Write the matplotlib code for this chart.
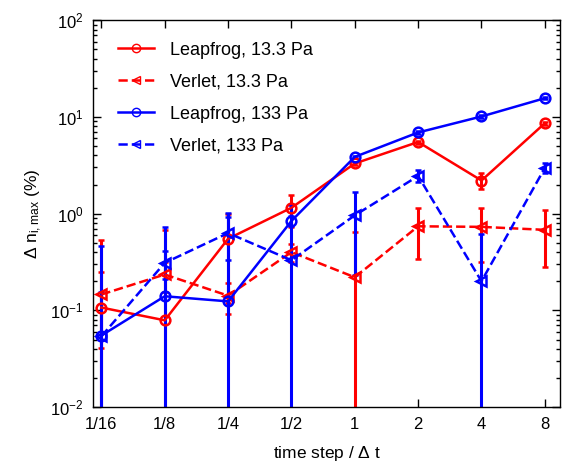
import matplotlib
matplotlib.use("Agg")
import matplotlib.pyplot as plt
from matplotlib.lines import Line2D

plt.rcParams['font.family'] = ['Liberation Sans', 'DejaVu Sans']
plt.rcParams['mathtext.fontset'] = 'custom'
plt.rcParams['mathtext.rm'] = 'Liberation Sans'
plt.rcParams['mathtext.it'] = 'Liberation Sans'

# time step relative to the reference step
steps = [1/16, 1/8, 1/4, 1/2, 1, 2, 4, 8]
step_labels = ['1/16', '1/8', '1/4', '1/2', '1', '2', '4', '8']

# max density error in percent, with error bars
leap_lo = [0.107, 0.079, 0.55, 1.15, 3.3, 5.5, 2.2, 8.6]
leap_lo_err = [0.43, 0.6, 0.43, 0.42, 0.1, 0.2, 0.4, 0.3]
verlet_lo = [0.146, 0.235, 0.142, 0.40, 0.22, 0.74, 0.73, 0.68]
verlet_lo_err = [0.105, 0.08, 0.05, 0.08, 0.42, 0.40, 0.41, 0.40]
leap_hi = [0.055, 0.14, 0.124, 0.84, 3.86, 6.9, 10.1, 15.6]
leap_hi_err = [0.41, 0.58, 0.9, 0.1, 0.1, 0.2, 0.3, 0.4]
verlet_hi = [0.054, 0.31, 0.63, 0.33, 0.96, 2.45, 0.2, 2.97]
verlet_hi_err = [0.1, 0.1, 0.3, 0.9, 0.73, 0.35, 0.41, 0.35]

fig = plt.figure(figsize=(5.68, 4.68), dpi=100)
ax = fig.add_axes([0.164, 0.130, 0.822, 0.827])

series = [
    (leap_lo, leap_lo_err, 'r', '-', 'o', 'Leapfrog, 13.3 Pa'),
    (verlet_lo, verlet_lo_err, 'r', '--', '<', 'Verlet, 13.3 Pa'),
    (leap_hi, leap_hi_err, 'b', '-', 'o', 'Leapfrog, 133 Pa'),
    (verlet_hi, verlet_hi_err, 'b', '--', '<', 'Verlet, 133 Pa'),
]

handles = []
for vals, err, col, ls, mk, lab in series:
    ax.errorbar(steps, vals, yerr=err, color=col, ls=ls, marker=mk,
                mfc='none', mec=col, ms=7, mew=1.8, lw=1.8,
                elinewidth=2.2, capsize=2, capthick=2)
    # thin-marker proxy for the legend, like the original
    handles.append(Line2D([], [], color=col, ls=ls, marker=mk, mfc='none',
                          mec=col, ms=6, mew=1, lw=1.8, label=lab))

ax.set_xscale('log', base=2)
ax.set_yscale('log')
ax.set_xlim(2**-4.13, 2**3.24)
ax.set_ylim(1e-2, 1e2)
ax.set_xticks(steps)
ax.set_xticklabels(step_labels)
ax.xaxis.set_minor_locator(matplotlib.ticker.NullLocator())

ax.tick_params(which='both', direction='in', top=True, right=True,
               labelsize=12, width=1)
ax.tick_params(which='major', length=6, pad=7)
ax.tick_params(which='minor', length=3)
for s in ax.spines.values():
    s.set_linewidth(1)

ax.set_xlabel('time step / $\\Delta$ t', fontsize=12.5, labelpad=9)
ax.set_ylabel('$\\Delta$ n$_{\\mathrm{i,max}}$ (%)', fontsize=12.5)

ax.legend(handles=handles, loc='upper left', bbox_to_anchor=(0.006, 1),
          frameon=False, fontsize=13, handlelength=2.0, labelspacing=0.83,
          borderaxespad=0.8, handletextpad=0.9)

fig.savefig('out.png', dpi=100)
